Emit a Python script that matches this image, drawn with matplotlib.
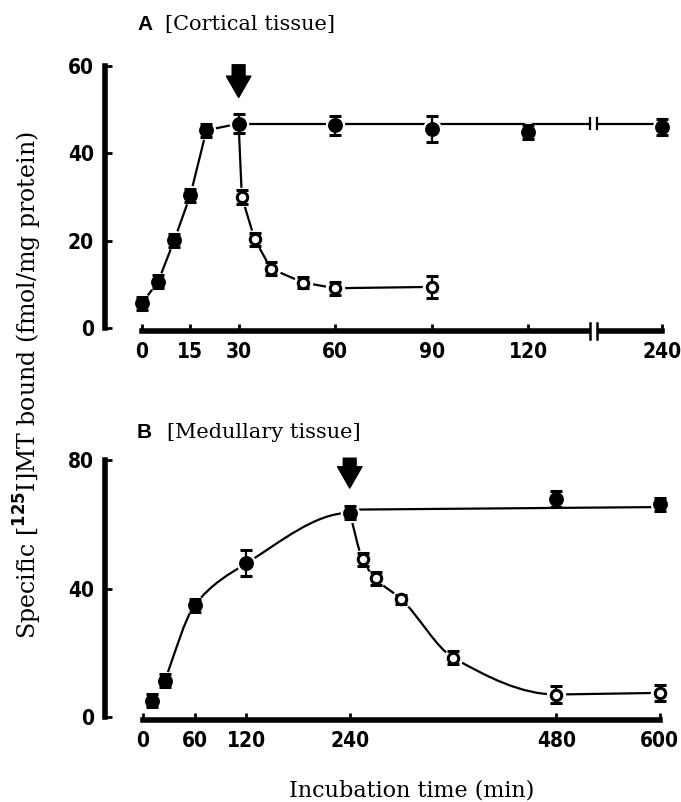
import numpy as np
import matplotlib
matplotlib.use("Agg")
import matplotlib.pyplot as plt
from matplotlib.path import Path
from matplotlib.patches import PathPatch

# ---- data ----
# A: cortical tissue
a_bind_t = [0, 5, 10, 15, 20, 30]
a_bind_y = [5.7, 10.6, 20.1, 30.4, 45.3, 46.8]
a_bind_e = [1.5, 1.5, 1.5, 1.5, 1.5, 2.2]
a_plat_t = [60, 90, 120, 240]
a_plat_y = [46.4, 45.6, 44.9, 46.0]
a_plat_e = [2.2, 3.0, 1.5, 1.8]
a_diss_t = [31, 35, 40, 50, 60, 90]
a_diss_y = [30.0, 20.3, 13.6, 10.4, 9.1, 9.4]
a_diss_e = [1.7, 1.5, 1.5, 1.2, 1.5, 2.5]

# B: medullary tissue
b_bind_t = [10, 25, 60, 120, 240]
b_bind_y = [5.2, 11.4, 34.9, 47.9, 63.6]
b_bind_e = [2.0, 2.0, 2.0, 4.0, 2.0]
b_plat_t = [480, 600]
b_plat_y = [67.8, 66.3]
b_plat_e = [2.5, 2.0]
b_diss_t = [255, 270, 300, 360, 480, 600]
b_diss_y = [49.1, 43.2, 36.7, 18.6, 7.1, 7.6]
b_diss_e = [2.0, 2.0, 1.5, 2.0, 2.5, 2.5]

a_xticks = [0, 15, 30, 60, 90, 120, 240]
a_yticks = [0, 20, 40, 60]
b_xticks = [0, 60, 120, 240, 480, 600]
b_yticks = [0, 40, 80]

SERIF = ["DejaVu Serif"]


def fwd(x):
    x = np.asarray(x, dtype=float)
    return np.where(x <= 140, x, 140 + (x - 140) * 0.215)


def inv(x):
    x = np.asarray(x, dtype=float)
    return np.where(x <= 140, x, 140 + (x - 140) / 0.215)


def smooth(ax, xs, ys, post=None):
    # monotone cubic (pchip style) drawn as bezier segments
    x = list(xs) + ([post[0]] if post else [])
    y = list(ys) + ([post[1]] if post else [])
    x = np.array(x, float)
    y = np.array(y, float)
    h = np.diff(x)
    d = np.diff(y) / h
    m = np.zeros(len(x))
    m[0] = d[0]
    m[-1] = d[-1]
    for i in range(1, len(x) - 1):
        if d[i - 1] * d[i] <= 0:
            m[i] = 0
        else:
            w1 = 2 * h[i] + h[i - 1]
            w2 = h[i] + 2 * h[i - 1]
            m[i] = (w1 + w2) / (w1 / d[i - 1] + w2 / d[i])
    n = len(xs)
    verts = [(x[0], y[0])]
    codes = [Path.MOVETO]
    for i in range(n - 1):
        dx = h[i] / 3
        verts += [(x[i] + dx, y[i] + m[i] * dx),
                  (x[i + 1] - dx, y[i + 1] - m[i + 1] * dx),
                  (x[i + 1], y[i + 1])]
        codes += [Path.CURVE4] * 3
    ax.add_patch(PathPatch(Path(verts, codes), fc="none", ec="k",
                           lw=1.6, zorder=2))


def points(ax, t, y, e, filled):
    ax.plot(t, y, "o", ms=13, color="white", zorder=3, ls="none")
    ax.errorbar(t, y, yerr=e, fmt="o", ms=8.5 if filled else 7.5,
                mfc="k" if filled else "white", mec="k", mew=2.2,
                ecolor="k", elinewidth=1.6, capsize=4, capthick=2,
                zorder=4)


def style(ax):
    for s in ["top", "right"]:
        ax.spines[s].set_visible(False)
    for s in ["left", "bottom"]:
        ax.spines[s].set_linewidth(4)
    ax.tick_params(direction="in", length=5, width=2, labelsize=15,
                   pad=8)
    for lab in ax.get_xticklabels() + ax.get_yticklabels():
        lab.set_family("DejaVu Sans")
        lab.set_fontstretch("condensed")
        lab.set_fontweight("bold")


fig = plt.figure(figsize=(6.81, 8.02), dpi=100)

# ---------- panel A ----------
ax = fig.add_axes([0.1542, 0.5873, 0.8297, 0.3379])
ax.set_xscale("function", functions=(fwd, inv))
ax.set_xlim(-11.5, 251.6)
ax.set_ylim(-0.7, 61.4)

ax.plot(a_bind_t, a_bind_y, color="k", lw=1.6, zorder=2)
ax.plot([30] + a_diss_t, [a_bind_y[-1]] + a_diss_y, color="k", lw=1.6,
        zorder=2)
lvl = a_bind_y[-1]
ax.plot([30, 139], [lvl, lvl], color="k", lw=1.6, zorder=2)
ax.plot([146, 240], [lvl, lvl], color="k", lw=1.6, zorder=2)
for bx in [139, 146]:
    ax.plot([bx, bx], [lvl - 1.3, lvl + 1.3], color="k", lw=1.6, zorder=2)

points(ax, a_bind_t, a_bind_y, a_bind_e, True)
points(ax, a_plat_t, a_plat_y, a_plat_e, True)
points(ax, a_diss_t, a_diss_y, a_diss_e, False)

ax.set_xticks(a_xticks)
ax.set_xticklabels([str(v) for v in a_xticks])
ax.set_yticks(a_yticks)
ax.xaxis.set_minor_locator(matplotlib.ticker.NullLocator())
ax.spines["left"].set_bounds(0, 60)
ax.spines["bottom"].set_bounds(0, 240)
style(ax)
# axis break
ax.plot([139.6, 145.4], [-0.7, -0.7], color="white", lw=7, zorder=5,
        clip_on=False, solid_capstyle="butt")
for bx in [139, 146]:
    ax.plot([bx, bx], [-2.6, 1.2], color="k", lw=1.8, zorder=6,
            clip_on=False)

arrow = dict(arrowstyle="simple,head_length=0.7,head_width=0.8,"
             "tail_width=0.42", fc="k", ec="k", mutation_scale=22,
             shrinkA=0, shrinkB=0)
ax.annotate("", xy=(30, 52.8), xytext=(30, 60.3), annotation_clip=False,
            arrowprops=arrow)

fig.text(137 / 681, 1 - 30 / 802, "A", fontsize=15, fontweight="bold",
         family=["Liberation Sans", "DejaVu Sans"], va="baseline")
fig.text(165 / 681, 1 - 30 / 802, "[Cortical tissue]", fontsize=15,
         family=SERIF, va="baseline")

# ---------- panel B ----------
bx_ = fig.add_axes([0.1542, 0.1022, 0.8297, 0.3305])
bx_.set_xlim(-44.2, 612)
bx_.set_ylim(-0.84, 81.6)

smooth(bx_, b_bind_t[1:], b_bind_y[1:], post=(480, b_bind_y[-1]))
smooth(bx_, [240] + b_diss_t[:-1], [b_bind_y[-1]] + b_diss_y[:-1],
       post=(600, b_diss_y[-1]))
bx_.plot(b_diss_t[-2:], b_diss_y[-2:], color="k", lw=1.6, zorder=2)
bx_.plot([240, 600], [b_bind_y[-1] + 1, b_bind_y[-1] + 1.8], color="k",
         lw=1.6, zorder=2)

points(bx_, b_bind_t, b_bind_y, b_bind_e, True)
points(bx_, b_plat_t, b_plat_y, b_plat_e, True)
points(bx_, b_diss_t, b_diss_y, b_diss_e, False)

bx_.set_xticks(b_xticks)
bx_.set_yticks(b_yticks)
bx_.spines["left"].set_bounds(0, 80)
bx_.spines["bottom"].set_bounds(0, 600)
style(bx_)

bx_.annotate("", xy=(240, 71.3), xytext=(240, 80.6), annotation_clip=False,
             arrowprops=arrow)

fig.text(137 / 681, 1 - 438 / 802, "B", fontsize=15, fontweight="bold",
         family=["Liberation Sans", "DejaVu Sans"], va="baseline")
fig.text(167 / 681, 1 - 438 / 802, "[Medullary tissue]", fontsize=15,
         family=SERIF, va="baseline")

fig.text(412 / 681, 1 - 791 / 802, "Incubation time (min)", fontsize=16,
         family=SERIF, ha="center", va="center")
fig.text(28 / 681, 1 - 385 / 802,
         r"Specific [$^{\mathbf{125}}$I]MT bound (fmol/mg protein)",
         fontsize=17, family=SERIF, rotation=90, ha="center", va="center")

fig.savefig("out.png", dpi=100)
